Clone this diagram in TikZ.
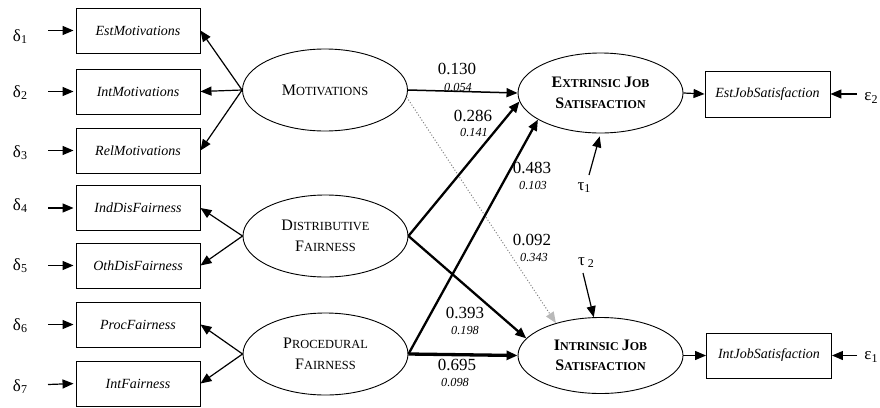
\documentclass[tikz,border=0pt]{standalone}
\usepackage{fontspec}
\setmainfont{Liberation Serif}
\usetikzlibrary{shapes.geometric,arrows.meta}
\newcommand{\scx}[2]{{\fontsize{16}{20}\selectfont #1}{\fontsize{12.4}{20}\selectfont #2}}
\newcommand{\scb}[2]{{\bfseries\fontsize{16}{20}\selectfont #1}{\bfseries\fontsize{12}{20}\selectfont #2}}
\newcommand{\sbs}[1]{\raisebox{-0.12em}{\fontsize{12}{12}\selectfont #1}}
\begin{document}
\begin{tikzpicture}[x=1pt,y=-1pt,
  obs/.style={draw,line width=0.9pt,minimum width=124pt,minimum height=45pt,inner sep=0pt,font=\fontsize{14}{14}\selectfont\itshape},
  lat/.style={draw,ellipse,line width=0.9pt,minimum width=165pt,minimum height=82pt,inner sep=0pt,align=center,font=\fontsize{12}{20.5}\selectfont},
  err/.style={font=\fontsize{17}{17}\selectfont,inner sep=0pt},
  tip/.style={-{Triangle[length=11pt,width=9pt]}},
  load/.style={tip,line width=1.2pt},
  pathA/.style={tip,line width=1.5pt},
  strong/.style={tip,line width=2.3pt},
  vstrong/.style={tip,line width=3.3pt},
  ns/.style={-{Triangle[length=11pt,width=9pt,color=gray!55]},gray,dotted,line width=1pt},
  coef/.style={font=\fontsize{17}{17}\selectfont,inner sep=0pt},
  se/.style={font=\fontsize{12.3}{12.3}\selectfont\itshape,inner sep=0pt}
]
\useasboundingbox (0,0) rectangle (880,407);

% observed indicators (left)
\node[obs] (b1) at (138,30.5) {EstMotivations};
\node[obs] (b2) at (138,91.5) {IntMotivations};
\node[obs] (b3) at (138,150.5) {RelMotivations};
\node[obs] (b4) at (138,208) {IndDisFairness};
\node[obs] (b5) at (138,265.5) {OthDisFairness};
\node[obs] (b6) at (138,324.5) {ProcFairness};
\node[obs] (b7) at (138,383.5) {IntFairness};

% error terms (left)
\node[err] (d1) at (20,37) {δ\sbs{1}};
\node[err] (d2) at (20,93) {δ\sbs{2}};
\node[err] (d3) at (20,153) {δ\sbs{3}};
\node[err] (d4) at (20,206) {δ\sbs{4}};
\node[err] (d5) at (20,266) {δ\sbs{5}};
\node[err] (d6) at (20,326) {δ\sbs{6}};
\node[err] (d7) at (20,387) {δ\sbs{7}};
\foreach \i/\y in {1/30.5,2/91.5,3/150.5,4/208,5/265.5,6/324.5,7/384.5}{
  \coordinate (e\i) at (48,\y);
  \draw[load,shorten >=2pt] (e\i) -- (b\i.west);
}

% latent variables
\node[lat] (mot) at (325,90) {\scx{M}{OTIVATIONS}};
\node[lat] (dis) at (325.5,236) {\scx{D}{ISTRIBUTIVE}\\\scx{F}{AIRNESS}};
\node[lat] (pro) at (325.5,354) {\scx{P}{ROCEDURAL}\\\scx{F}{AIRNESS}};
\node[lat,minimum height=80pt] (ext) at (600.5,93) {\scb{E}{XTRINSIC} \scb{J}{OB}\\\scb{S}{ATISFACTION}};
\node[lat,minimum height=76pt] (int) at (600.5,355.5) {\scb{I}{NTRINSIC} \scb{J}{OB}\\\scb{S}{ATISFACTION}};

% loadings
\draw[load] (mot.west) -- (b1.east);
\draw[load] (mot.west) -- (b2.east);
\draw[load] (mot.west) -- (b3.east);
\draw[load] (dis.west) -- (b4.east);
\draw[load] (dis.west) -- (b5.east);
\draw[load] (pro.west) -- (b6.east);
\draw[load] (pro.west) -- (b7.east);

% outcome indicators (right)
\node[obs,minimum width=125pt,minimum height=46pt] (o1) at (767.5,94) {EstJobSatisfaction};
\node[obs,minimum width=125pt,minimum height=45pt] (o2) at (769,355.5) {IntJobSatisfaction};
\draw[load] (ext.east) -- (o1.west);
\draw[load] (int.east) -- (o2.west);
\node[err] (eps2) at (871,98) {ε\sbs{2}};
\node[err] (eps1) at (871,357) {ε\sbs{1}};
\coordinate (f2) at (857,94);
\coordinate (f1) at (857,355.5);
\draw[load] (f2) -- (o1.east);
\draw[load] (f1) -- (o2.east);

% disturbances
\node[err] (t1) at (584,188) {τ\sbs{1}};
\node[err] (t2) at (586,263) {τ\,\sbs{2}};
\coordinate (t1s) at (589,175);
\coordinate (t2s) at (583,273);
\draw[load,shorten >=3pt] (t1s) -- (ext.south);
\draw[load] (t2s) -- (int.100);

% structural paths
\draw[ns] (mot.-5) -- (int.144);
\draw[pathA] (mot.east) -- (ext.west);
\draw[strong] (dis.east) -- (ext.186);
\draw[strong] (dis.east) -- (int.167);
\draw[strong] (pro.east) -- (ext.203);
\draw[vstrong] (pro.east) -- (int.west);

% coefficients
\node[coef] (c1) at (457,69) {0.130};
\node[se] (s1) at (458,87) {0.054};
\node[coef] (c2) at (473,116) {0.286};
\node[se] (s2) at (474,132) {0.141};
\node[coef] (c3) at (532,168) {0.483};
\node[se] (s3) at (533,185) {0.103};
\node[coef] (c4) at (532,240) {0.092};
\node[se] (s4) at (534,257) {0.343};
\node[coef] (c5) at (465,313) {0.393};
\node[se] (s5) at (465,330) {0.198};
\node[coef] (c6) at (457,365) {0.695};
\node[se] (s6) at (455,382) {0.098};
\end{tikzpicture}
\end{document}
